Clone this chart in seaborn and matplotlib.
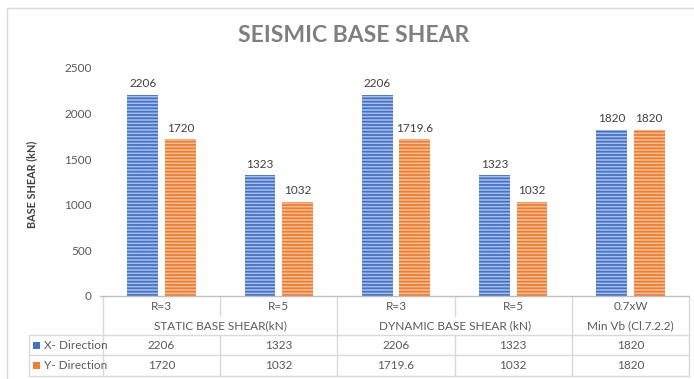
import matplotlib
matplotlib.use("Agg")
import matplotlib.pyplot as plt
import matplotlib.transforms as mtransforms
import seaborn as sns
import pandas as pd

# Load-case groups and sub-cases shown along the category axis
groups = ["STATIC BASE SHEAR(kN)", "STATIC BASE SHEAR(kN)",
          "DYNAMIC BASE SHEAR (kN)", "DYNAMIC BASE SHEAR (kN)",
          "Min Vb (Cl.7.2.2)"]
cases = ["R=3", "R=5", "R=3", "R=5", "0.7xW"]
series = ["X- Direction", "Y- Direction"]
x_dir = [2206, 1323, 2206, 1323, 1820]
y_dir = [1720, 1032, 1719.6, 1032, 1820]
y_ticks = [0, 500, 1000, 1500, 2000, 2500]

W, H = 694, 379
sns.set_theme(style="white")
plt.rcParams["font.family"] = ["Lato", "DejaVu Sans"]
plt.rcParams["hatch.linewidth"] = 1.3

keys = [f"{g}|{c}" for g, c in zip(groups, cases)]
df = pd.DataFrame({
    "case": keys * 2,
    "dir": [series[0]] * len(keys) + [series[1]] * len(keys),
    "shear": x_dir + y_dir,
})

dark = {series[0]: "#4472C4", series[1]: "#ED7D31"}
light = {series[0]: "#A9BEEA", series[1]: "#F7BE98"}

fig = plt.figure(figsize=(W / 100, H / 100), dpi=100)
fig.patch.set_facecolor("white")


def fx(px):
    return px / W


def fy(py):
    return 1 - py / H


ax_left, ax_right, ax_bottom, ax_top = 103, 689, 296, 68
ax = fig.add_axes([fx(ax_left), fy(ax_bottom),
                   fx(ax_right - ax_left), (ax_bottom - ax_top) / H])

sns.barplot(data=df, x="case", y="shear", hue="dir", order=keys,
            hue_order=series, palette=dark, width=0.64, gap=0.18,
            legend=False, ax=ax, errorbar=None)

# Striped fill: light face with dark horizontal hatching
for cont, name, vals in zip(ax.containers, series, [x_dir, y_dir]):
    for p in cont:
        p.set_facecolor(light[name])
        p.set_edgecolor(dark[name])
        p.set_hatch("-----")
        p.set_linewidth(0)
    ax.bar_label(cont, labels=[f"{v:g}" for v in vals], padding=4,
                 fontsize=8.5, color="#404040")

ax.set_xlim(-0.5, len(keys) - 0.5)
ax.set_ylim(0, 2500)
ax.set_yticks(y_ticks)
ax.set_yticklabels([str(t) for t in y_ticks])
ax.tick_params(axis="y", length=0, pad=8, labelsize=8.5, labelcolor="#595959")
ax.set_xticks([])
ax.set_xlabel("")
ax.set_ylabel("")
for s in ["top", "right", "left", "bottom"]:
    ax.spines[s].set_visible(False)
ax.patch.set_alpha(0)

# Chart title and value-axis title
fig.text(fx(354), fy(36), "SEISMIC BASE SHEAR", ha="center", va="center",
         fontsize=16.5, fontweight="bold", color="#7F7F7F")
fig.text(fx(32), fy(184), "BASE SHEAR (kN)", ha="center", va="center",
         rotation=90, fontsize=7.8, fontweight="bold", color="#404040")

# Outer chart border
line_c = "#D9D9D9"
fig.add_artist(plt.Line2D([fx(7), fx(7)], [fy(8), fy(H + 5)], color=line_c, lw=1))
fig.add_artist(plt.Line2D([fx(7), fx(W + 5)], [fy(8), fy(8)], color=line_c, lw=1))

# Data table under the axis
tb = mtransforms.blended_transform_factory(ax.transData, fig.transFigure)
y_axis, y_mid, y_r1, y_r2, y_end = 296, 316, 335, 355, 376
tl = dict(color=line_c, lw=1, clip_on=False)
fig.add_artist(plt.Line2D([fx(100), fx(ax_right)], [fy(y_axis), fy(y_axis)],
                          color="#BFBFBF", lw=1))
for yy in [y_r1, y_r2, y_end]:
    fig.add_artist(plt.Line2D([fx(29), fx(ax_right)], [fy(yy), fy(yy)], **tl))
fig.add_artist(plt.Line2D([fx(29), fx(29)], [fy(y_r1), fy(y_end)], **tl))

n = len(keys)
for i in range(n + 1):
    xb = i - 0.5
    same_group = 0 < i < n and groups[i - 1] == groups[i]
    if same_group:
        for ya, yb in [(y_axis, y_mid), (y_r1, y_end)]:
            ax.add_line(plt.Line2D([xb, xb], [fy(ya), fy(yb)], transform=tb, **tl))
    else:
        ax.add_line(plt.Line2D([xb, xb], [fy(y_axis), fy(y_end)], transform=tb, **tl))

txt = dict(ha="center", va="center", fontsize=8.5, color="#595959",
           transform=tb, clip_on=False)
for i, c in enumerate(cases):
    ax.text(i, fy(307), c, **txt)
    ax.text(i, fy(345.5), f"{x_dir[i]:g}", **txt)
    ax.text(i, fy(365.5), f"{y_dir[i]:g}", **txt)

seen = []
for g in groups:
    if g not in seen:
        seen.append(g)
for g in seen:
    idx = [i for i, gg in enumerate(groups) if gg == g]
    ax.text(sum(idx) / len(idx), fy(325.5), g, **txt)

# Series keys in the table's first column
for name, yy in zip(series, [345.5, 365.5]):
    fig.patches.append(plt.Rectangle((fx(33), fy(yy + 3.5)), fx(7), 7 / H,
                                     transform=fig.transFigure,
                                     facecolor=dark[name], edgecolor="none"))
    fig.text(fx(44), fy(yy), name, ha="left", va="center",
             fontsize=8.5, color="#595959")

fig.savefig("out.png", dpi=100, facecolor="white")
